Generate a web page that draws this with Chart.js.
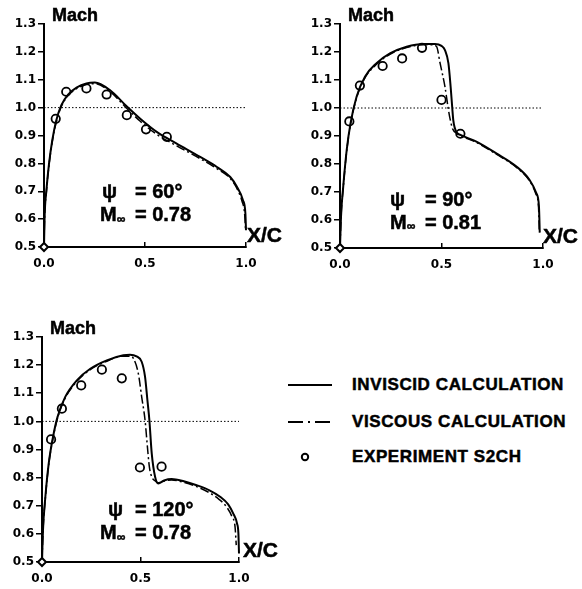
<!DOCTYPE html>
<html>
<head>
<meta charset="utf-8">
<script src="https://cdn.jsdelivr.net/npm/chart.js@4.4.1/dist/chart.umd.min.js"></script>
<style>
    body {
        margin: 0;
        background: #fff;
        width: 582px;
        height: 589px;
        position: relative;
        overflow: hidden;
        font-family: "Liberation Sans", Arial, sans-serif;
    }
    canvas { position: absolute; }
    .key { position: absolute; left: 284px; }
    .legend-text {
        position: absolute;
        left: 352px;
        font-weight: bold;
        font-size: 17px;
        line-height: 20px;
        letter-spacing: 0.6px;
        -webkit-text-stroke: 0.5px #000;
        color: #000;
        white-space: nowrap;
    }
</style>
</head>
<body>
<canvas id="psi60" width="290" height="290" style="left:0;top:0"></canvas>
<canvas id="psi90" width="292" height="290" style="left:290px;top:0"></canvas>
<canvas id="psi120" width="290" height="299" style="left:0;top:290px"></canvas>

<svg class="key" style="top:370px" width="54" height="100">
    <line x1="4" y1="15" x2="48" y2="15" stroke="#000" stroke-width="2"/>
    <line x1="4" y1="52" x2="48" y2="52" stroke="#000" stroke-width="2" stroke-dasharray="15,5,2,5,15"/>
    <circle cx="21" cy="87" r="3.2" fill="none" stroke="#000" stroke-width="2"/>
</svg>
<div class="legend-text" style="top:375px">INVISCID CALCULATION</div>
<div class="legend-text" style="top:412px">VISCOUS CALCULATION</div>
<div class="legend-text" style="top:447px">EXPERIMENT S2CH</div>

<script>
// axis ticks shared by all three panels
const xTicks = [0, 0.5, 1.0];
const machTicks = [0.5, 0.6, 0.7, 0.8, 0.9, 1.0, 1.1, 1.2, 1.3];
const sonicX = [0, 1.0];
const sonicMach = 1.0;
const originX = 0;
const originMach = 0.5;

// psi = 60 deg, M = 0.78
const inv60X = [0, 0.003, 0.012, 0.025, 0.041, 0.061, 0.086, 0.119, 0.161, 0.21, 0.252, 0.326, 0.409, 0.475, 0.558, 0.657, 0.773, 0.856, 0.922, 0.955, 0.985, 0.997, 1.0];
const inv60M = [0.5, 0.608, 0.704, 0.8, 0.883, 0.955, 1.009, 1.047, 1.072, 1.087, 1.09, 1.063, 1.005, 0.961, 0.913, 0.871, 0.823, 0.787, 0.751, 0.716, 0.668, 0.62, 0.56];
const visc60X = [0, 0.003, 0.012, 0.025, 0.041, 0.061, 0.086, 0.119, 0.161, 0.21, 0.252, 0.326, 0.409, 0.475, 0.558, 0.657, 0.773, 0.856, 0.922, 0.955, 0.98, 0.993, 0.998];
const visc60M = [0.5, 0.605, 0.7, 0.795, 0.878, 0.95, 1.004, 1.043, 1.068, 1.083, 1.086, 1.058, 0.998, 0.952, 0.904, 0.863, 0.817, 0.781, 0.746, 0.71, 0.665, 0.62, 0.56];
const exp60X = [0.058, 0.11, 0.21, 0.31, 0.41, 0.505, 0.608];
const exp60M = [0.96, 1.057, 1.069, 1.047, 0.973, 0.922, 0.895];

// psi = 90 deg, M = 0.81
const inv90X = [0, 0.005, 0.016, 0.033, 0.052, 0.082, 0.123, 0.18, 0.246, 0.328, 0.41, 0.468, 0.5, 0.517, 0.534, 0.545, 0.553, 0.558, 0.565, 0.575, 0.593, 0.672, 0.77, 0.869, 0.934, 0.967, 0.98, 0.984];
const inv90M = [0.5, 0.613, 0.72, 0.85, 0.946, 1.041, 1.112, 1.16, 1.195, 1.219, 1.229, 1.229, 1.222, 1.207, 1.16, 1.076, 1.0, 0.957, 0.93, 0.912, 0.904, 0.88, 0.838, 0.791, 0.743, 0.696, 0.649, 0.555];
const visc90X = [0, 0.005, 0.016, 0.033, 0.052, 0.082, 0.123, 0.18, 0.246, 0.328, 0.41, 0.455, 0.476, 0.493, 0.517, 0.533, 0.542, 0.555, 0.575, 0.593, 0.672, 0.77, 0.869, 0.934, 0.965, 0.978, 0.982];
const visc90M = [0.5, 0.61, 0.716, 0.846, 0.942, 1.037, 1.108, 1.156, 1.192, 1.216, 1.226, 1.226, 1.219, 1.16, 1.076, 0.999, 0.962, 0.925, 0.91, 0.902, 0.877, 0.835, 0.788, 0.74, 0.693, 0.646, 0.555];
const exp90X = [0.046, 0.098, 0.21, 0.306, 0.404, 0.5, 0.593];
const exp90M = [0.952, 1.08, 1.15, 1.177, 1.215, 1.029, 0.908];

// psi = 120 deg, M = 0.78
const inv120X = [0, 0.005, 0.017, 0.034, 0.056, 0.079, 0.118, 0.177, 0.245, 0.329, 0.413, 0.447, 0.48, 0.506, 0.523, 0.535, 0.545, 0.557, 0.574, 0.59, 0.62, 0.658, 0.72, 0.785, 0.85, 0.904, 0.945, 0.971, 0.99, 0.997, 1.0];
const inv120M = [0.5, 0.613, 0.731, 0.85, 0.945, 1.016, 1.087, 1.146, 1.187, 1.217, 1.235, 1.237, 1.231, 1.212, 1.159, 1.076, 1.005, 0.886, 0.803, 0.779, 0.79, 0.795, 0.787, 0.773, 0.755, 0.732, 0.705, 0.672, 0.637, 0.601, 0.53];
const visc120X = [0, 0.005, 0.017, 0.034, 0.056, 0.079, 0.118, 0.177, 0.245, 0.329, 0.413, 0.447, 0.464, 0.489, 0.506, 0.523, 0.535, 0.545, 0.557, 0.575, 0.59, 0.62, 0.658, 0.72, 0.785, 0.853, 0.9, 0.937, 0.965, 0.98, 0.986];
const visc120M = [0.5, 0.61, 0.727, 0.846, 0.941, 1.012, 1.083, 1.142, 1.184, 1.214, 1.232, 1.232, 1.224, 1.17, 1.087, 1.005, 0.91, 0.838, 0.803, 0.788, 0.782, 0.788, 0.792, 0.783, 0.768, 0.745, 0.722, 0.696, 0.66, 0.625, 0.56];
const exp120X = [0.046, 0.101, 0.199, 0.304, 0.405, 0.497, 0.607];
const exp120M = [0.936, 1.045, 1.128, 1.184, 1.153, 0.836, 0.839];

const toPoints = (xs, ys) => xs.map((x, i) => ({ x, y: ys[i] }));

const tickFont = { family: 'DejaVu Sans', weight: 'bold', size: 12 };

// filled text with a thin outline so it reads as heavy type
function heavyText(ctx, str, x, y) {
    ctx.fillText(str, x, y);
    ctx.strokeText(str, x, y);
}

// writes "Mach", "X/C" and the flow condition onto each panel
const panelText = {
    id: 'panelText',
    afterDraw(chart, args, opts) {
        const { ctx, chartArea: a, scales: { x, y } } = chart;
        ctx.save();
        ctx.fillStyle = '#000';
        ctx.strokeStyle = '#000';
        ctx.lineWidth = 0.5;
        ctx.textBaseline = 'middle';
        ctx.textAlign = 'left';
        ctx.font = 'bold 18px "Liberation Sans"';
        heavyText(ctx, 'Mach', a.left + 8, a.top - 8);
        ctx.font = 'bold 21px "Liberation Sans"';
        heavyText(ctx, 'X/C', a.right + opts.xcDx, a.bottom - 11);

        const px = x.getPixelForValue(opts.at[0]);
        const py = y.getPixelForValue(opts.at[1]);
        const my = py + 23;
        ctx.font = 'bold 20px "Liberation Sans"';
        heavyText(ctx, '\u03c8', px + opts.psiDx, py);
        heavyText(ctx, '= ' + opts.psi + '\u00b0', px + 35, py);
        heavyText(ctx, 'M', px, my);
        heavyText(ctx, '= ' + opts.mach, px + 35, my);
        ctx.font = 'bold 12px "Liberation Sans"';
        heavyText(ctx, '\u221e', px + 17, my + 4);
        ctx.restore();
    }
};

function buildPanel(id, series, box, text) {
    return new Chart(document.getElementById(id), {
        type: 'line',
        data: {
            datasets: [
                {
                    data: toPoints(series.expX, series.expM),
                    showLine: false,
                    pointStyle: 'circle',
                    pointRadius: 4.2,
                    pointBorderWidth: 1.8,
                    pointBorderColor: '#000',
                    pointBackgroundColor: 'rgba(255,255,255,0)',
                    clip: false
                },
                {
                    data: [{ x: originX, y: originMach }],
                    showLine: false,
                    pointStyle: 'rectRot',
                    pointRadius: 4,
                    pointBorderWidth: 2,
                    pointBorderColor: '#000',
                    pointBackgroundColor: '#fff',
                    clip: false
                },
                {
                    data: toPoints(series.invX, series.invM),
                    borderColor: '#000',
                    borderWidth: 2,
                    pointRadius: 0,
                    cubicInterpolationMode: 'monotone',
                    clip: false
                },
                {
                    data: toPoints(series.viscX, series.viscM),
                    borderColor: '#000',
                    borderWidth: 1.5,
                    borderDash: [9, 3, 2, 3],
                    pointRadius: 0,
                    cubicInterpolationMode: 'monotone',
                    clip: false
                },
                {
                    data: sonicX.map(x => ({ x, y: sonicMach })),
                    borderColor: '#000',
                    borderWidth: 1,
                    borderDash: [1.5, 2],
                    pointRadius: 0,
                    clip: false
                }
            ]
        },
        options: {
            responsive: false,
            animation: false,
            events: [],
            layout: { padding: { left: 0, top: box.top, right: box.right, bottom: 0 } },
            plugins: {
                legend: { display: false },
                tooltip: { enabled: false },
                panelText: text
            },
            scales: {
                x: {
                    type: 'linear',
                    min: 0,
                    max: 1,
                    afterBuildTicks: s => { s.ticks = xTicks.map(v => ({ value: v })); },
                    afterFit: s => { s.height = box.xh; },
                    grid: { drawOnChartArea: false, drawTicks: true, tickLength: -5, color: '#000', lineWidth: 1.5 },
                    border: { display: true, color: '#000', width: 2 },
                    ticks: {
                        padding: 15,
                        autoSkip: false,
                        maxRotation: 0,
                        color: '#000',
                        font: tickFont,
                        callback: v => v.toFixed(1)
                    }
                },
                y: {
                    type: 'linear',
                    min: 0.5,
                    max: 1.3,
                    afterBuildTicks: s => { s.ticks = machTicks.map(v => ({ value: v })); },
                    afterFit: s => { s.width = box.yw; },
                    grid: { drawOnChartArea: false, drawTicks: true, tickLength: 6, color: '#000', lineWidth: 1.5 },
                    border: { display: true, color: '#000', width: 2 },
                    ticks: {
                        padding: 2,
                        autoSkip: false,
                        color: '#000',
                        font: tickFont,
                        callback: v => v.toFixed(1)
                    }
                }
            }
        },
        plugins: [panelText]
    });
}

buildPanel('psi60',
    { invX: inv60X, invM: inv60M, viscX: visc60X, viscM: visc60M, expX: exp60X, expM: exp60M },
    { top: 24, right: 44, yw: 44, xh: 43 },
    { psi: 60, mach: '0.78', at: [0.277, 0.694], psiDx: 2, xcDx: 1 });

buildPanel('psi90',
    { invX: inv90X, invM: inv90M, viscX: visc90X, viscM: visc90M, expX: exp90X, expM: exp90M },
    { top: 24, right: 39, yw: 50, xh: 42 },
    { psi: 90, mach: '0.81', at: [0.246, 0.671], psiDx: 0, xcDx: 0 });

buildPanel('psi120',
    { invX: inv120X, invM: inv120M, viscX: visc120X, viscM: visc120M, expX: exp120X, expM: exp120M },
    { top: 47, right: 51, yw: 42, xh: 27 },
    { psi: 120, mach: '0.78', at: [0.294, 0.684], psiDx: 8, xcDx: 4 });
</script>
</body>
</html>
